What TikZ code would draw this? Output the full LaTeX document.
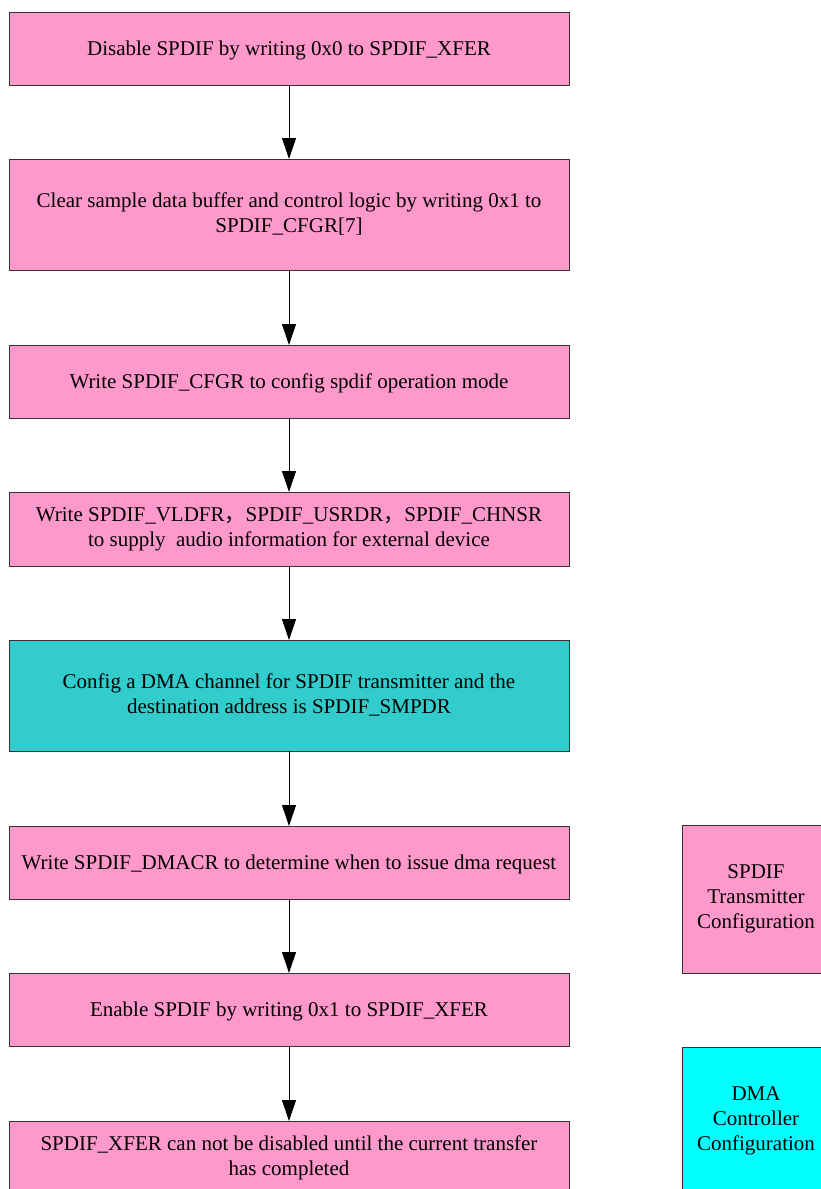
\documentclass[tikz,border=0pt]{standalone}
\usepackage{fontspec}
\setmainfont{Liberation Serif}
\newfontfamily\cjk{Noto Sans CJK SC}
\usetikzlibrary{arrows.meta}
\definecolor{pinkbox}{HTML}{FF99CC}
\definecolor{tealbox}{HTML}{33CCCC}
\definecolor{cyanbox}{HTML}{00FFFF}
\definecolor{edgecol}{HTML}{333333}
\tikzset{
  boxtext/.style={align=center, font=\fontsize{21}{25}\selectfont,
    execute at begin node={\rule{0pt}{18.7pt}},
    execute at end node={\rule[-4.5pt]{0pt}{4.5pt}}},
  stepbox/.style={draw=edgecol, line width=1pt, rectangle, inner sep=0pt, outer sep=0pt,
    minimum width=560pt, boxtext},
  legendbox/.style={draw=edgecol, line width=1pt, rectangle, inner sep=0pt, outer sep=0pt,
    minimum width=148pt, minimum height=148pt, boxtext},
  arr/.style={draw=black, line width=1pt, -{Triangle[length=21pt,width=14pt]}}
}
\begin{document}
\begin{tikzpicture}[x=1pt,y=-1pt]
\useasboundingbox (0,0) rectangle (821,1189);
\fill[white] (0,0) rectangle (821,1189);
\clip (0,0) rectangle (821,1189);
\node[stepbox, fill=pinkbox, minimum height=73pt] (b1) at (289,48.5) {Disable SPDIF by writing 0x0 to SPDIF\_XFER};
\node[stepbox, fill=pinkbox, minimum height=111pt] (b2) at (289,214.5) {Clear sample data buffer and control logic by writing 0x1 to\\SPDIF\_CFGR[7]};
\node[stepbox, fill=pinkbox, minimum height=73pt] (b3) at (289,381.5) {Write SPDIF\_CFGR to config spdif operation mode};
\node[stepbox, fill=pinkbox, minimum height=74pt] (b4) at (289,529) {Write SPDIF\_VLDFR{\cjk ，}SPDIF\_USRDR{\cjk ，}SPDIF\_CHNSR\\to supply\ \ audio information for external device};
\node[stepbox, fill=tealbox, minimum height=111pt] (b5) at (289,695.5) {Config a DMA channel for SPDIF transmitter and the\\destination address is SPDIF\_SMPDR};
\node[stepbox, fill=pinkbox, minimum height=73pt] (b6) at (289,862.5) {Write SPDIF\_DMACR to determine when to issue dma request};
\node[stepbox, fill=pinkbox, minimum height=73pt] (b7) at (289,1009.5) {Enable SPDIF by writing 0x1 to SPDIF\_XFER};
\node[stepbox, fill=pinkbox, minimum height=73pt] (b8) at (289,1157.5) {SPDIF\_XFER can not be disabled until the current transfer\\has completed};
\node[legendbox, fill=pinkbox] (l1) at (756,899) {SPDIF\\Transmitter\\Configuration};
\node[legendbox, fill=cyanbox] (l2) at (756,1121) {DMA\\Controller\\Configuration};
\draw[arr] (b1) -- (b2);
\draw[arr] (b2) -- (b3);
\draw[arr] (b3) -- (b4);
\draw[arr] (b4) -- (b5);
\draw[arr] (b5) -- (b6);
\draw[arr] (b6) -- (b7);
\draw[arr] (b7) -- (b8);
\end{tikzpicture}
\end{document}
